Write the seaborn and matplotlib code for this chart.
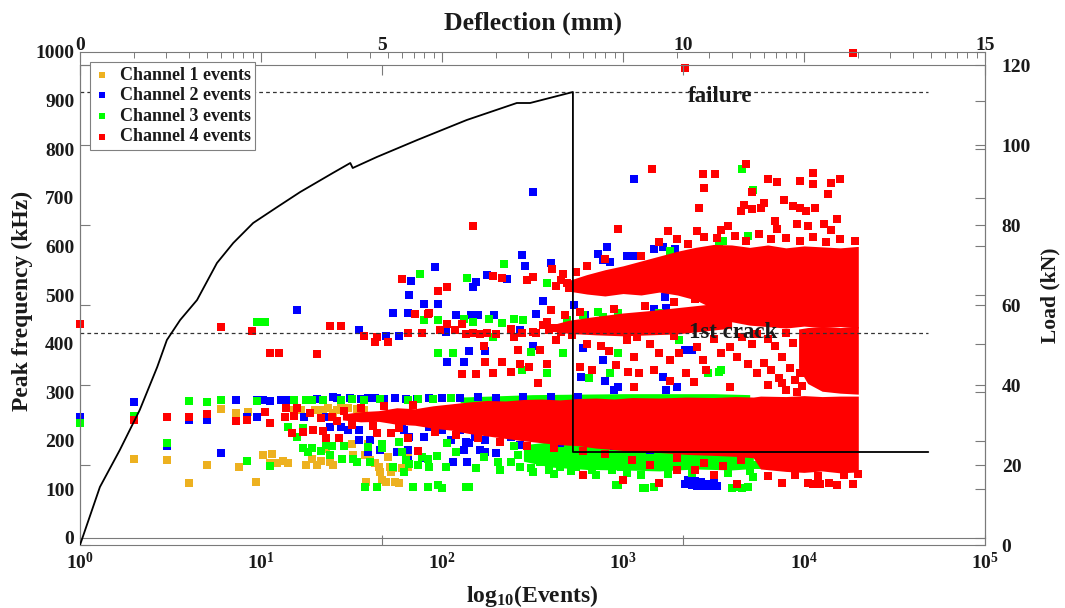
import matplotlib
matplotlib.use('Agg')
import matplotlib.pyplot as plt
import numpy as np
import pandas as pd
import seaborn as sns

# channel events: (log10 of event number, peak frequency kHz)
ch1_events = [
    (0.30, 163), (0.48, 161), (0.60, 113), (0.70, 151), (0.78, 266), (0.86, 257), (0.88, 146),
    (0.93, 259), (0.97, 115), (1.01, 170), (1.05, 154), (1.09, 155), (1.12, 158), (1.15, 154),
    (1.18, 263), (1.22, 263), (1.25, 150), (1.28, 162), (1.30, 263), (1.34, 263), (1.36, 183),
    (1.38, 156), (1.40, 257), (1.42, 263), (1.46, 263), (1.48, 267), (1.50, 193), (1.51, 170),
    (1.06, 172), (1.31, 150), (1.33, 159), (1.40, 150), (1.57, 263), (1.58, 115), (1.60, 160),
    (1.63, 154), (1.65, 146), (1.66, 136), (1.67, 119), (1.69, 115), (1.71, 146), (1.73, 144),
    (1.70, 166), (1.575, 170), (1.59, 193), (1.72, 136), (1.74, 115), (1.76, 113), (1.78, 144),
    (1.81, 146), (1.81, 174), (1.53, 265), (1.44, 270), (1.37, 268),
]
ch2_events = [
    (0.0, 250), (0.30, 279), (0.48, 190), (0.60, 242), (0.70, 242), (0.78, 174), (0.86, 283),
    (0.92, 250), (0.98, 248), (1.20, 470), (1.54, 427), (1.69, 415), (1.73, 462), (1.90, 482),
    (2.02, 423), (2.08, 458), (2.03, 362), (2.15, 384), (2.20, 458), (1.76, 415), (1.81, 462),
    (1.82, 501), (1.83, 528), (1.96, 557),
    (0.98, 283), (1.01, 283), (1.05, 281), (1.11, 283), (1.15, 283), (1.17, 283), (1.25, 284),
    (1.31, 285), (1.40, 290), (1.42, 289), (1.49, 288), (1.55, 287), (1.59, 288), (1.63, 289),
    (1.68, 287), (1.74, 288), (1.80, 286), (1.86, 287), (1.93, 288), (2.00, 289), (2.10, 288),
    (2.20, 290), (2.30, 289), (2.45, 290), (2.60, 291), (2.75, 290),
    (1.24, 249), (1.36, 249), (1.38, 228), (1.44, 228), (1.48, 222), (1.54, 201), (1.54, 222),
    (1.59, 177), (1.60, 201), (1.66, 181), (1.75, 177), (1.78, 226), (1.79, 222), (1.81, 160),
    (1.81, 181), (1.82, 207), (1.89, 164), (1.90, 207), (1.93, 228), (2.00, 222), (2.05, 201),
    (2.06, 156), (2.10, 222), (2.12, 181), (2.13, 197), (2.14, 156), (2.15, 195), (2.18, 207),
    (2.21, 181), (2.24, 177), (2.24, 201), (2.30, 174), (2.36, 218), (2.38, 207), (2.43, 191),
    (2.57, 211), (2.65, 195), (2.80, 200), (2.95, 190), (3.10, 185), (3.00, 191), (3.15, 182),
    (2.50, 711), (2.44, 583), (2.46, 559), (2.17, 516), (2.19, 526), (2.25, 542), (2.36, 532),
    (1.98, 482), (2.16, 458), (2.29, 458), (2.52, 460), (2.56, 487), (2.60, 565), (2.86, 585),
    (2.91, 598), (2.89, 571), (2.93, 567), (3.02, 581), (2.73, 480), (2.79, 458), (2.43, 427),
    (2.50, 396), (2.24, 384), (2.12, 362), (2.78, 390), (2.89, 367), (2.77, 331), (2.90, 324),
    (2.97, 310), (2.95, 304),
    (3.06, 739), (3.17, 595), (3.22, 598), (3.29, 595), (3.06, 581), (3.23, 495), (3.17, 472),
    (3.24, 474), (3.33, 462), (3.34, 386), (3.38, 386), (3.22, 331), (3.30, 310), (3.24, 304),
    (3.34, 112), (3.38, 110), (3.41, 108), (3.45, 108), (3.48, 108), (3.52, 108), (3.36, 120),
    (3.40, 118), (3.47, 112), (3.43, 115), (3.50, 115),
]
ch3_events = [
    (0.0, 236), (0.30, 252), (0.48, 195), (0.60, 281), (0.70, 279), (0.78, 283), (0.92, 158),
    (0.98, 281), (0.98, 444), (1.05, 148), (1.15, 228), (1.18, 283), (1.26, 177), (1.23, 185),
    (1.28, 283), (1.39, 189), (1.45, 162), (1.53, 156), (1.575, 105), (1.59, 187), (1.67, 193),
    (1.73, 146), (1.79, 136), (1.82, 152), (1.84, 105), (1.89, 166), (1.93, 146), (1.98, 109),
    (2.00, 103), (1.90, 448), (1.98, 380), (1.88, 544), (1.02, 444), (1.20, 207), (1.23, 226),
    (1.28, 185), (1.33, 179), (1.36, 191), (1.38, 170), (1.46, 189), (1.51, 162), (1.60, 156),
    (1.64, 105), (1.67, 185), (1.76, 197), (1.78, 177), (1.80, 160), (1.87, 150), (1.92, 105),
    (1.92, 162),
    (1.25, 283), (1.34, 283), (1.44, 283), (1.50, 285), (1.57, 284), (1.66, 285), (1.81, 283),
    (1.87, 286), (1.95, 287), (2.05, 288),
    (2.34, 563), (2.14, 534), (2.58, 524), (1.98, 448), (2.12, 450), (2.17, 444), (2.33, 442),
    (2.40, 450), (2.45, 448), (2.69, 448), (2.78, 458), (2.86, 464), (2.89, 454), (2.97, 462),
    (2.06, 380), (2.28, 413), (2.49, 382), (2.44, 345), (2.58, 339), (2.67, 380), (2.97, 380),
    (2.81, 329), (2.93, 339), (2.26, 451),
    (1.97, 168), (2.02, 146), (2.08, 177), (2.13, 105), (2.19, 144), (2.23, 166), (2.31, 156),
    (2.32, 140), (2.38, 156), (2.43, 146), (2.49, 144), (2.54, 156), (2.59, 140), (2.65, 146),
    (2.70, 156), (2.74, 146), (2.78, 156), (2.83, 140), (2.89, 150), (2.94, 140), (2.99, 146),
    (2.97, 109), (2.03, 195), (2.15, 105),
    (2.50, 135), (2.62, 132), (2.71, 137), (2.85, 130), (3.02, 133), (3.10, 129), (3.25, 131),
    (3.38, 134), (3.50, 130), (3.58, 133), (3.70, 137), (3.74, 150), (3.75, 175), (2.40, 190),
    (2.42, 170),
    (3.66, 760), (3.72, 717), (3.55, 612), (3.53, 341), (3.47, 339), (3.69, 622), (3.53, 608),
    (3.12, 103), (3.60, 103), (3.66, 103), (3.72, 125), (2.96, 109), (3.11, 103), (3.17, 105),
    (3.63, 105), (3.69, 105), (3.01, 550), (3.09, 530), (3.35, 509), (3.26, 591), (3.06, 448),
    (3.20, 462), (3.31, 407), (3.54, 345),
]
ch4_events = [
    (0.0, 440), (0.30, 242), (0.48, 249), (0.60, 249), (0.70, 255), (0.78, 435), (0.86, 241),
    (0.92, 242), (0.95, 425), (1.05, 380), (1.31, 378), (1.38, 437), (1.57, 415), (1.63, 404),
    (1.81, 421), (1.85, 460), (1.99, 427), (2.03, 441), (2.11, 337), (2.13, 419), (2.17, 421),
    (2.21, 419), (2.24, 362), (2.28, 339),
    (1.05, 236), (1.14, 267), (1.17, 216), (1.29, 222), (1.36, 205), (1.64, 216), (1.78, 532),
    (1.92, 460), (1.44, 437), (1.10, 380), (1.64, 413), (1.70, 404), (1.89, 421), (1.02, 259),
    (1.20, 267), (1.23, 218), (1.34, 220), (1.43, 205), (1.72, 216), (1.81, 205), (1.87, 179),
    (1.13, 249), (1.27, 257), (1.18, 252), (1.33, 246), (1.39, 250), (1.42, 240), (1.46, 262),
    (1.50, 232), (1.55, 268), (1.62, 230), (1.68, 272), (1.76, 226), (1.84, 274), (1.96, 218),
    (2.08, 212), (2.20, 205), (2.32, 197), (2.47, 190), (2.62, 185), (2.78, 178), (2.90, 172),
    (2.17, 643), (2.97, 636), (1.98, 509), (2.03, 517), (2.28, 540), (2.33, 536), (2.47, 530),
    (2.50, 538), (2.60, 470), (2.63, 519), (2.61, 554), (2.67, 544), (2.69, 524), (1.93, 462),
    (2.07, 427), (2.11, 441), (2.25, 421), (2.30, 419), (2.38, 431), (2.40, 413), (2.44, 421),
    (2.50, 423), (2.52, 421), (2.56, 439), (2.59, 427), (2.63, 407), (2.66, 423), (2.72, 417),
    (2.23, 396), (2.33, 362), (2.38, 341), (2.42, 386), (2.43, 359), (2.48, 351), (2.54, 386),
    (2.58, 359), (2.53, 318), (2.19, 337),
    (2.76, 351), (2.83, 345), (2.96, 355), (3.03, 341), (2.80, 400), (2.88, 395), (2.92, 385),
    (3.16, 760), (3.44, 749), (3.51, 748), (3.45, 721), (3.68, 770), (3.80, 739), (3.85, 733),
    (3.98, 735), (4.05, 751), (4.05, 729), (4.15, 731), (4.20, 739), (4.13, 708), (3.71, 712),
    (3.67, 686), (3.65, 673), (3.71, 676), (3.76, 678), (3.78, 690), (3.42, 680), (3.89, 696),
    (3.94, 684), (3.98, 680), (4.01, 673), (4.06, 678), (4.18, 657), (3.84, 653), (3.54, 634),
    (3.58, 643), (3.41, 632), (3.25, 632), (3.85, 636), (3.96, 647), (4.02, 641), (4.11, 647),
    (4.15, 634), (3.34, 967), (4.27, 998),
    (3.20, 610), (3.30, 615), (3.45, 620), (3.62, 622), (3.75, 625), (3.90, 618), (4.05, 620),
    (4.20, 615), (4.28, 612), (2.80, 560), (2.90, 575), (3.10, 580), (2.66, 530), (2.70, 515),
    (2.74, 548), (3.36, 605), (3.52, 618), (3.68, 612), (3.82, 615), (3.98, 612), (4.12, 610),
    (2.58, 445), (2.62, 432), (2.68, 458), (2.76, 464), (2.95, 472), (3.12, 478), (3.28, 486),
    (3.40, 492), (3.48, 462), (3.56, 470),
    (3.02, 407), (3.08, 413), (3.15, 400), (3.20, 380), (3.26, 366), (3.31, 380), (3.41, 392),
    (3.44, 366), (3.46, 345), (3.54, 380), (3.59, 392), (3.63, 372), (3.69, 359), (3.74, 339),
    (3.06, 372), (3.09, 339), (3.17, 345), (3.35, 339), (3.39, 320), (3.59, 310), (3.26, 324),
    (3.06, 310), (3.71, 400), (3.66, 413), (3.80, 410), (3.84, 395), (3.88, 372), (3.92, 350),
    (3.86, 330), (3.80, 315), (3.90, 305), (3.94, 402), (3.78, 360), (3.82, 345), (3.95, 325),
    (3.50, 410), (3.28, 415), (3.12, 425), (3.74, 420), (3.90, 422), (3.98, 340), (3.99, 312),
    (3.96, 300), (3.88, 318),
    (3.05, 160), (3.15, 150), (3.30, 165), (3.45, 155), (3.55, 148), (3.65, 160), (3.40, 140),
    (3.20, 113), (3.63, 111), (3.88, 113), (4.02, 113), (4.05, 112), (4.09, 111), (4.14, 113),
    (4.18, 109), (4.27, 111), (2.78, 130), (3.00, 120), (3.30, 140), (3.50, 130),
    (3.80, 128), (3.95, 130), (4.08, 127), (4.22, 129), (4.30, 132),
]

# saturated regions where the squares merge into solid colour (log10 events, kHz)
ch3_low_log = [2.45, 2.6, 2.8, 3.0, 3.2, 3.4, 3.6, 3.72]
ch3_low_lo = [158, 146, 141, 140, 138, 142, 140, 143]
ch3_low_hi = [192, 198, 198, 200, 198, 200, 198, 196]
ch3_top_log = [2.1, 2.5, 3.0, 3.5, 3.7]
ch3_top_lo = [278, 280, 282, 282, 282]
ch3_top_hi = [290, 295, 297, 297, 295]

ch4_low_log = [1.45, 1.55, 1.65, 1.75, 1.85, 1.95, 2.05, 2.15, 2.25, 2.35, 2.45, 2.55, 2.65, 2.75,
               2.85, 2.95, 3.05, 3.2, 3.35, 3.5, 3.62, 3.72, 3.76, 3.9, 4.0, 4.1, 4.2, 4.3]
ch4_low_lo = [243, 239, 240, 234, 232, 226, 222, 215, 210, 205, 200, 196, 192, 190,
              185, 182, 178, 176, 172, 170, 168, 165, 142, 137, 135, 138, 134, 136]
ch4_low_hi = [255, 260, 262, 268, 266, 272, 276, 280, 283, 282, 285, 286, 284, 287,
              288, 286, 289, 288, 290, 289, 291, 290, 292, 291, 293, 291, 292, 292]
ch4_up_log = [2.7, 2.8, 2.9, 3.0, 3.1, 3.2, 3.3, 3.4, 3.5, 3.6, 3.7, 3.8, 3.9, 4.0, 4.1, 4.2, 4.3]
ch4_up_lo = [508, 502, 498, 503, 500, 506, 500, 490, 472, 445, 438, 435, 432, 436, 433, 435, 432]
ch4_up_hi = [530, 542, 552, 560, 570, 580, 590, 598, 604, 603, 598, 603, 597, 601, 599, 597, 600]
ch4_mid_log = [2.6, 2.7, 2.85, 3.0, 3.15, 3.3, 3.45, 3.6]
ch4_mid_lo = [426, 421, 418, 416, 418, 420, 426, 432]
ch4_mid_hi = [438, 448, 456, 463, 468, 474, 480, 488]
ch4_right_log = [3.97, 4.02, 4.1, 4.2, 4.3]
ch4_right_lo = [350, 318, 302, 298, 296]
ch4_right_hi = [430, 433, 435, 433, 435]

# load-deflection curve
deflection_mm = [0, 0.33, 0.66, 0.99, 1.28, 1.44, 1.66, 1.94, 2.27, 2.54, 2.87, 3.27, 3.65,
                 4.19, 4.48, 4.52, 4.92, 5.59, 6.41, 7.24, 7.46, 8.17, 8.17, 14.06]
load_kN = [0, 14.5, 23.75, 33.75, 44.5, 51.25, 56.25, 61.25, 70.5, 75.5, 80.5, 84.5, 88.25,
           93, 95.5, 94.25, 97, 101.25, 106.25, 110.5, 110.5, 113.25, 23.25, 23.25]
failure_load = 113.25
crack_load = 53.0
marker_extent_mm = [0, 14.05]

channels = ['Channel 1 events', 'Channel 2 events', 'Channel 3 events', 'Channel 4 events']
colours = ['#EDB120', '#0000FF', '#00FF00', '#FF0000']

sns.set_style('white')
plt.rcParams['font.family'] = ['Liberation Serif', 'DejaVu Serif']
plt.rcParams['font.weight'] = 'bold'
plt.rcParams['axes.labelweight'] = 'bold'
plt.rcParams['mathtext.default'] = 'regular'

W, H = 1065, 608
fig = plt.figure(figsize=(W / 100, H / 100), dpi=100)
ax1 = fig.add_axes([80 / W, 1 - 538 / H, 905 / W, 486 / H])
ax2 = fig.add_axes([80 / W, 1 - 545 / H, 905 / W, 480 / H])
ax2.patch.set_visible(False)

frame = '#7a7a7a'
txt = '#1a1a1a'


def to_frame(points):
    df = pd.DataFrame(points, columns=['log_events', 'freq'])
    df['events'] = 10 ** df['log_events']
    return df


def band(ax, logs, lo, hi, colour, z):
    ax.fill_between(10 ** np.array(logs), lo, hi, color=colour, lw=0, zorder=z)


band(ax1, ch3_low_log, ch3_low_lo, ch3_low_hi, colours[2], 2.1)
band(ax1, ch3_top_log, ch3_top_lo, ch3_top_hi, colours[2], 2.1)
band(ax1, ch4_low_log, ch4_low_lo, ch4_low_hi, colours[3], 2.4)
band(ax1, ch4_up_log, ch4_up_lo, ch4_up_hi, colours[3], 2.4)
band(ax1, ch4_mid_log, ch4_mid_lo, ch4_mid_hi, colours[3], 2.4)
band(ax1, ch4_right_log, ch4_right_lo, ch4_right_hi, colours[3], 2.4)

for pts, name, col, z in zip([ch1_events, ch2_events, ch3_events, ch4_events], channels,
                             colours, [2.0, 2.2, 2.3, 2.5]):
    df = to_frame(pts)
    sns.scatterplot(data=df, x='events', y='freq', ax=ax1, color=col, marker='s', s=28,
                    linewidth=0, label=name, zorder=z, clip_on=False)

ax1.set_xscale('log')
ax1.set_xlim(1, 1e5)
ax1.set_ylim(0, 1000)
ax1.set_yticks(np.arange(0, 1001, 100))
ax1.set_xticks([1, 10, 100, 1000, 1e4, 1e5])
ax1.tick_params(which='both', direction='in', top=True, right=True, colors=frame,
                labelcolor=txt, labelsize=14)
ax1.tick_params(which='major', length=7, width=0.8)
ax1.tick_params(which='minor', length=4, width=0.7)
ax1.tick_params(axis='x', pad=10)
ax1.tick_params(axis='y', pad=4)
ax1.set_xlabel('log$_{10}$(Events)', fontsize=17, color=txt, fontweight='bold')
ax1.xaxis.set_label_coords(0.5, -0.092)
ax1.set_ylabel('Peak frequency (kHz)', fontsize=17, color=txt, va='center', fontweight='bold')
ax1.yaxis.set_label_coords(-0.064, 0.488)
handles, labels = ax1.get_legend_handles_labels()
ax1.get_legend().remove()

ax2.plot(deflection_mm, load_kN, color='black', lw=1.3, zorder=3)
ax2.plot(marker_extent_mm, [failure_load] * 2, color='#333333', lw=0.9, ls=(0, (3, 2.5)))
ax2.plot(marker_extent_mm, [crack_load] * 2, color='#333333', lw=0.9, ls=(0, (3, 2.5)))
ax2.text(10.08, failure_load - 1.2, 'failure', fontsize=16.5, va='center', ha='left', color=txt)
ax2.text(10.1, crack_load, '1st crack', fontsize=16.5, va='center', ha='left', color=txt)
ax2.set_xlim(0, 15)
ax2.set_ylim(0, 120)
ax2.set_xticks([0, 5, 10, 15])
ax2.set_yticks(np.arange(0, 121, 20))
ax2.xaxis.tick_top()
ax2.yaxis.tick_right()
ax2.tick_params(which='both', direction='in', top=True, bottom=True, left=True, right=True,
                labeltop=True, labelbottom=False, labelleft=False, labelright=True,
                colors=frame, labelcolor=txt, labelsize=14, length=7, width=0.8)
ax2.tick_params(axis='x', pad=8)
ax2.tick_params(axis='y', pad=12)
ax2.xaxis.set_label_position('top')
ax2.set_xlabel('Deflection (mm)', fontsize=18.5, color=txt, fontweight='bold')
ax2.xaxis.set_label_coords(0.5, 1.073)
ax2.yaxis.set_label_position('right')
ax2.set_ylabel('Load (kN)', fontsize=15.5, color=txt, rotation=90, va='center',
               fontweight='bold')
ax2.yaxis.set_label_coords(1.072, 0.52)

for ax in (ax1, ax2):
    for sp in ax.spines.values():
        sp.set_color(frame)
        sp.set_linewidth(0.8)

leg = ax2.legend(handles, labels, loc='upper left', bbox_to_anchor=(90 / W, 1 - 62 / H),
                 bbox_transform=fig.transFigure, borderaxespad=0, fontsize=13,
                 frameon=True, fancybox=False, framealpha=1, edgecolor='#808080',
                 handlelength=0.8, handletextpad=0.6, labelspacing=0.2, borderpad=0.25,
                 markerscale=0.75)
leg.get_frame().set_linewidth(0.8)
for t in leg.get_texts():
    t.set_color(txt)

fig.savefig('out.png', dpi=100)
